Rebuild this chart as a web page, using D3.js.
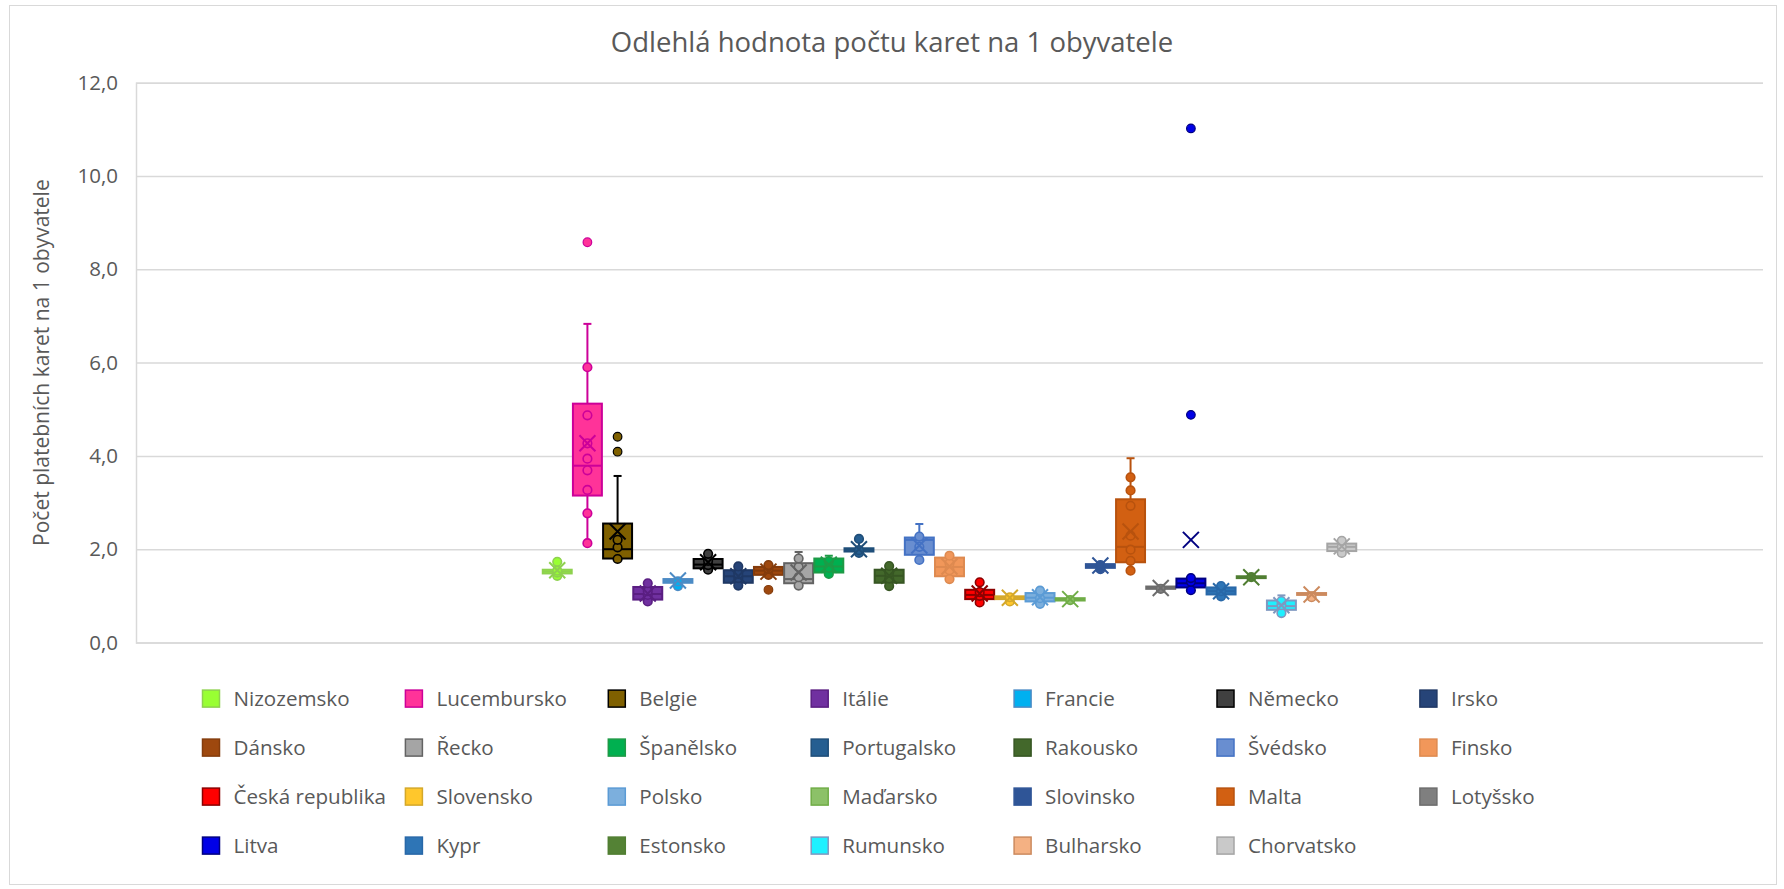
<!DOCTYPE html>
<html>
<head>
<meta charset="utf-8">
<script src="https://cdn.jsdelivr.net/npm/d3@7"></script>
<style>
  body { margin: 0; background: #fff; }
  svg { display: block; font-family: "Open Sans", sans-serif; }
</style>
</head>
<body>
<div id="chart"></div>
<script>
// Countries in series order (also legend order)
const countries = ["Nizozemsko", "Lucembursko", "Belgie", "Itálie", "Francie", "Německo", "Irsko",
  "Dánsko", "Řecko", "Španělsko", "Portugalsko", "Rakousko", "Švédsko", "Finsko",
  "Česká republika", "Slovensko", "Polsko", "Maďarsko", "Slovinsko", "Malta", "Lotyšsko",
  "Litva", "Kypr", "Estonsko", "Rumunsko", "Bulharsko", "Chorvatsko"];

const fillColors = ["#99FF33", "#FF3399", "#7F6000", "#7030A0", "#00B0F0", "#404040", "#264478",
  "#9E480E", "#A5A5A5", "#00B050", "#255E91", "#43682B", "#698ED0", "#F1975A",
  "#FF0000", "#FFC72C", "#7CAFDD", "#8CC168", "#2F5597", "#D26012", "#7F7F7F",
  "#0000E6", "#2E75B6", "#548235", "#1EF0FF", "#F4B183", "#C9C9C9"];

const lineColors = ["#8ED14F", "#CC0099", "#000000", "#5A1E82", "#4C8BC5", "#000000", "#1F3864",
  "#843C0C", "#636363", "#1E9A46", "#1F4E79", "#375623", "#4472C4", "#DE8A50",
  "#8B0000", "#D4A82A", "#5B9BD5", "#70AD47", "#2F5597", "#B8520E", "#6D6D6D",
  "#000080", "#2868A8", "#507E32", "#7F98C0", "#CC8A5E", "#A5A5A5"];

// Box statistics per country
const whiskerLow = [1.43, 2.13, 1.79, 0.88, 1.21, 1.56, 1.22, 1.43, 1.22, 1.47, 1.92, 1.21, 1.77, 1.36,
  0.86, 0.88, 0.83, 0.88, 1.57, 1.54, 1.12, 1.12, 0.98, 1.36, 0.63, 0.98, 1.92];
const q1 = [1.48, 3.15, 1.80, 0.92, 1.28, 1.59, 1.28, 1.45, 1.27, 1.50, 1.95, 1.28, 1.88, 1.42,
  0.93, 0.93, 0.88, 0.90, 1.60, 1.72, 1.15, 1.18, 1.03, 1.38, 0.70, 1.02, 1.96];
const median = [1.52, 3.79, 2.00, 1.04, 1.32, 1.67, 1.42, 1.54, 1.36, 1.63, 1.99, 1.43, 2.20, 1.62,
  1.02, 0.96, 0.96, 0.93, 1.64, 2.05, 1.18, 1.27, 1.10, 1.40, 0.78, 1.04, 2.05];
const q3 = [1.56, 5.12, 2.55, 1.19, 1.36, 1.79, 1.55, 1.62, 1.70, 1.80, 2.02, 1.56, 2.25, 1.82,
  1.13, 0.99, 1.06, 0.95, 1.68, 3.07, 1.20, 1.37, 1.18, 1.42, 0.90, 1.06, 2.12];
const whiskerHigh = [1.73, 6.83, 3.57, 1.27, 1.38, 1.90, 1.63, 1.66, 1.94, 1.86, 2.22, 1.64, 2.54, 1.86,
  1.29, 1.00, 1.11, 0.97, 1.70, 3.95, 1.22, 1.38, 1.22, 1.44, 1.01, 1.08, 2.18];
const means = [1.55, 4.27, 2.38, 1.05, 1.33, 1.72, 1.42, 1.52, 1.50, 1.67, 2.00, 1.43, 2.08, 1.63,
  1.05, 0.96, 0.97, 0.93, 1.65, 2.38, 1.17, 2.20, 1.10, 1.40, 0.80, 1.03, 2.06];

// Inner points and outliers per country
const innerPoints = [
  [1.43, 1.50, 1.54, 1.73],
  [2.13, 2.77, 3.27, 3.69, 3.94, 4.27, 4.87, 5.90],
  [1.79, 2.04, 2.20],
  [0.88, 1.02, 1.10, 1.27],
  [1.21, 1.31],
  [1.56, 1.66, 1.75, 1.90],
  [1.22, 1.38, 1.47, 1.63],
  [1.45, 1.58, 1.66],
  [1.22, 1.40, 1.62, 1.80],
  [1.47, 1.60, 1.74],
  [1.92, 1.98, 2.22],
  [1.21, 1.37, 1.50, 1.64],
  [1.77, 2.05, 2.27],
  [1.36, 1.55, 1.70, 1.86],
  [0.86, 1.00, 1.08, 1.29],
  [0.88, 0.97],
  [0.83, 0.95, 1.11],
  [0.91],
  [1.57, 1.66],
  [1.54, 1.75, 1.99, 2.29, 2.93, 3.26, 3.54],
  [1.15],
  [1.12, 1.30, 1.38],
  [0.99, 1.10, 1.21],
  [1.40],
  [0.63, 0.80, 0.89],
  [0.97],
  [1.92, 2.05, 2.18]
];
const outliers = [[], [8.58], [4.09, 4.41], [], [], [], [], [1.13], [], [], [], [], [], [],
  [], [], [], [], [], [], [], [4.88, 11.02], [], [], [], [], []];

const yTicks = [0, 2, 4, 6, 8, 10, 12];

const chartTitle = "Odlehlá hodnota počtu karet na 1 obyvatele";
const yTitle = "Počet platebních karet na 1 obyvatele";

// Layout
const width = 1784, height = 889;
const plot = { left: 136, right: 1763, top: 82.7, bottom: 642.5 };
const textColor = "#595959";
const gridColor = "#D9D9D9";

const svg = d3.select("#chart").append("svg")
  .attr("width", width)
  .attr("height", height);

// Chart border
svg.append("rect")
  .attr("x", 9.5).attr("y", 5.5)
  .attr("width", 1767).attr("height", 879)
  .attr("fill", "#fff")
  .attr("stroke", gridColor)
  .attr("stroke-width", 1);

// Title
svg.append("text")
  .attr("x", 892).attr("y", 52)
  .attr("text-anchor", "middle")
  .attr("font-size", 27.5)
  .attr("fill", textColor)
  .text(chartTitle);

// Scales
const y = d3.scaleLinear().domain([0, 12]).range([plot.bottom, plot.top]);
const xGroup = d3.scaleBand().domain(["all"]).range([plot.left, plot.right]).paddingOuter(0.5);
const xSeries = d3.scaleBand().domain(countries).range([0, xGroup.bandwidth()]).paddingInner(0.04);

const czLocale = d3.formatLocale({ decimal: ",", thousands: " ", grouping: [3], currency: ["", " Kč"] });
const fmt = czLocale.format(".1f");

// Grid + y axis
const yAxis = d3.axisLeft(y)
  .tickValues(yTicks)
  .tickSize(-(plot.right - plot.left))
  .tickPadding(18)
  .tickFormat(fmt);

const yAxisG = svg.append("g")
  .attr("transform", `translate(${plot.left},0)`)
  .call(yAxis);
yAxisG.select(".domain").attr("stroke", gridColor).attr("stroke-width", 1.5);
yAxisG.selectAll(".tick line").attr("stroke", gridColor).attr("stroke-width", 1.5);
yAxisG.selectAll(".tick text")
  .attr("fill", textColor)
  .attr("font-size", 20.5)
  .attr("font-family", "Open Sans, sans-serif");

// Y axis title
svg.append("text")
  .attr("transform", `translate(42,${(plot.top + plot.bottom) / 2}) rotate(-90)`)
  .attr("text-anchor", "middle")
  .attr("dy", "0.35em")
  .attr("font-size", 21)
  .attr("fill", textColor)
  .text(yTitle);

// Boxes
const data = countries.map((c, i) => ({
  name: c, fill: fillColors[i], line: lineColors[i],
  lo: whiskerLow[i], q1: q1[i], med: median[i], q3: q3[i], hi: whiskerHigh[i],
  mean: means[i], points: innerPoints[i], outliers: outliers[i]
}));

const bw = xSeries.bandwidth();
const capHalf = 4;
const xHalf = 8;

const series = svg.append("g").selectAll("g.series")
  .data(data)
  .join("g")
  .attr("class", "series")
  .attr("transform", d => `translate(${xGroup("all") + xSeries(d.name)},0)`);

// Whiskers
series.append("line")
  .attr("x1", bw / 2).attr("x2", bw / 2)
  .attr("y1", d => y(d.hi)).attr("y2", d => y(d.q3))
  .attr("stroke", d => d.line).attr("stroke-width", 2);
series.append("line")
  .attr("x1", bw / 2).attr("x2", bw / 2)
  .attr("y1", d => y(d.q1)).attr("y2", d => y(d.lo))
  .attr("stroke", d => d.line).attr("stroke-width", 2);
series.append("line")
  .attr("x1", bw / 2 - capHalf).attr("x2", bw / 2 + capHalf)
  .attr("y1", d => y(d.hi)).attr("y2", d => y(d.hi))
  .attr("stroke", d => d.line).attr("stroke-width", 2);
series.append("line")
  .attr("x1", bw / 2 - capHalf).attr("x2", bw / 2 + capHalf)
  .attr("y1", d => y(d.lo)).attr("y2", d => y(d.lo))
  .attr("stroke", d => d.line).attr("stroke-width", 2);

// Box
series.append("rect")
  .attr("x", 0).attr("width", bw)
  .attr("y", d => y(d.q3))
  .attr("height", d => y(d.q1) - y(d.q3))
  .attr("fill", d => d.fill)
  .attr("stroke", d => d.line)
  .attr("stroke-width", 2);

// Median
series.append("line")
  .attr("x1", 0).attr("x2", bw)
  .attr("y1", d => y(d.med)).attr("y2", d => y(d.med))
  .attr("stroke", d => d.line).attr("stroke-width", 2);

// Inner points
series.selectAll("circle.pt")
  .data(d => d.points.map(v => ({ v, d })))
  .join("circle")
  .attr("class", "pt")
  .attr("cx", bw / 2)
  .attr("cy", p => y(p.v))
  .attr("r", 4.3)
  .attr("fill", p => p.d.fill)
  .attr("stroke", p => p.d.line)
  .attr("stroke-width", 1.6);

// Mean marker
series.append("path")
  .attr("d", d => {
    const cx = bw / 2, cy = y(d.mean);
    return `M${cx - xHalf},${cy - xHalf}L${cx + xHalf},${cy + xHalf}M${cx - xHalf},${cy + xHalf}L${cx + xHalf},${cy - xHalf}`;
  })
  .attr("fill", "none")
  .attr("stroke", d => d.line)
  .attr("stroke-width", 2);

// Outliers
series.selectAll("circle.out")
  .data(d => d.outliers.map(v => ({ v, d })))
  .join("circle")
  .attr("class", "out")
  .attr("cx", bw / 2)
  .attr("cy", p => y(p.v))
  .attr("r", 4.3)
  .attr("fill", p => p.d.fill)
  .attr("stroke", p => p.d.line)
  .attr("stroke-width", 1.2);

// Legend
const legendCols = 7;
const legendX = d3.scaleLinear().domain([0, 1]).range([202.5, 405.4]);
const legendY = d3.scaleLinear().domain([0, 1]).range([698.6, 747.6]);
const swatch = 17;

const legend = svg.append("g").selectAll("g.legend")
  .data(data)
  .join("g")
  .attr("class", "legend")
  .attr("transform", (d, i) => `translate(${legendX(i % legendCols)},${legendY(Math.floor(i / legendCols))})`);

legend.append("rect")
  .attr("x", 0).attr("y", -swatch / 2)
  .attr("width", swatch).attr("height", swatch)
  .attr("fill", d => d.fill)
  .attr("stroke", d => d.line)
  .attr("stroke-width", 1.5);

legend.append("text")
  .attr("x", 31)
  .attr("y", 0)
  .attr("dy", "0.35em")
  .attr("font-size", 20.6)
  .attr("fill", textColor)
  .text(d => d.name);
</script>
</body>
</html>
